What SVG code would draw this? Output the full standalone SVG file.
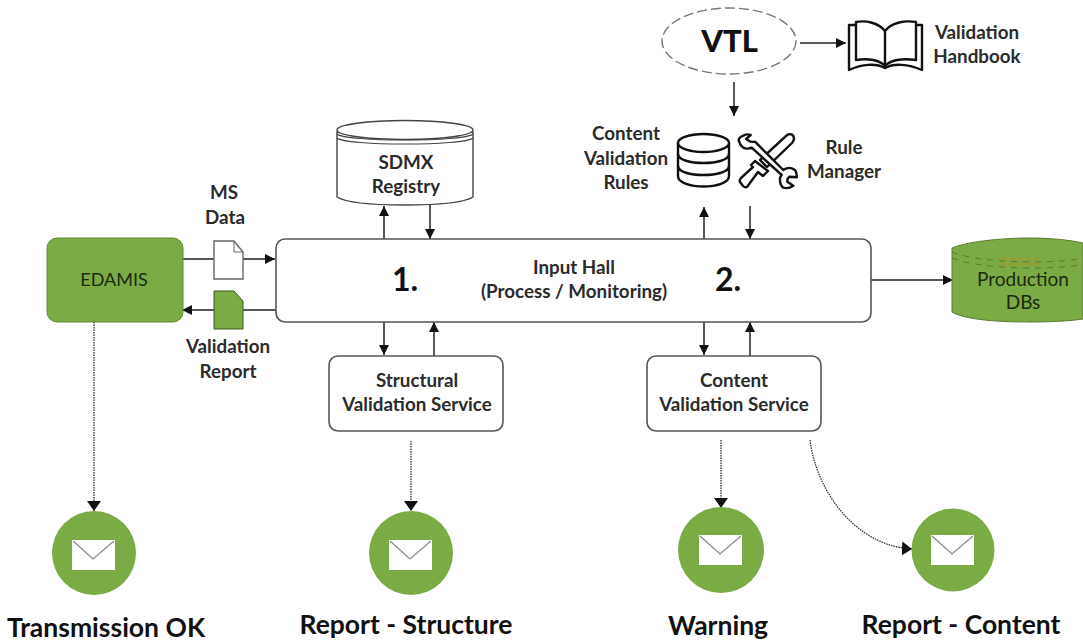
<svg xmlns="http://www.w3.org/2000/svg" width="1083" height="644" viewBox="0 0 1083 644">
<style>
text{font-family:Lato,"Open Sans","Liberation Sans",sans-serif;font-weight:700;fill:#2b2b2b;text-anchor:middle}
.l{font-size:18.800px}
.b{font-size:26.500px;fill:#111}
.n{font-size:32px;fill:#111}
.w{font-weight:400;fill:#1c2a10}
.box{fill:#fff;stroke:#555;stroke-width:1.6}
.c{fill:none;stroke:#222;stroke-width:1.5}
.d{fill:none;stroke:#333;stroke-width:1.3;stroke-dasharray:1.5 1}
.i{fill:#fff;stroke:#111;stroke-width:2.400;stroke-linejoin:round;stroke-linecap:round}
.o{fill:none;stroke:#111;stroke-width:2.400;stroke-linejoin:round;stroke-linecap:round}
.g{fill:#7aab45}
.e{fill:#fff}
.f{fill:none;stroke:#8a8a94;stroke-width:1.3}
</style>
<defs>
<marker id="a" markerUnits="userSpaceOnUse" markerWidth="11" markerHeight="11" refX="10" refY="5.500" orient="auto"><path d="M0 0.500L10 5.500L0 10.500Z" fill="#111"/></marker>
<marker id="h" markerUnits="userSpaceOnUse" markerWidth="11" markerHeight="15" refX="10" refY="7.500" orient="auto"><path d="M0 0.500L10 7.500L0 14.500Z" fill="#111"/></marker>
<g id="mail"><rect class="e" x="-22" y="-15" width="43" height="30"/><path class="f" d="M-21-14L-1 4L20-14"/></g>
</defs>

<g id="connectors">
<path class="c" d="M800 43H846" marker-end="url(#a)"/>
<path class="c" d="M734 82V116" marker-end="url(#a)"/>
<path class="c" d="M704 239V207" marker-end="url(#a)"/>
<path class="c" d="M750 206V239" marker-end="url(#a)"/>
<path class="c" d="M384 239V206" marker-end="url(#a)"/>
<path class="c" d="M430 205V239" marker-end="url(#a)"/>
<path class="c" d="M182 259H214M243 259H275" marker-end="url(#a)"/>
<path class="c" d="M276 310H243M214 310H182" marker-end="url(#a)"/>
<path class="c" d="M384 322V355" marker-end="url(#a)"/>
<path class="c" d="M434 356V322" marker-end="url(#a)"/>
<path class="c" d="M704 322V355" marker-end="url(#a)"/>
<path class="c" d="M750 356V322" marker-end="url(#a)"/>
<path class="c" d="M871 280H953" marker-end="url(#a)"/>
<path class="d" d="M94 322V511" marker-end="url(#h)"/>
<path class="d" d="M411 441V511" marker-end="url(#h)"/>
<path class="d" d="M721 440V508" marker-end="url(#h)"/>
<path class="d" d="M810 440C816 490 855 546 912 549" marker-end="url(#h)"/>
</g>

<g id="vtl"><ellipse cx="729" cy="41" rx="67" ry="33" fill="#fff" stroke="#777" stroke-width="1.4" stroke-dasharray="10 4"/><text x="729.500" y="52" style="font-size:31px;font-weight:900;fill:#111">VTL</text></g>

<g id="handbook">
<path class="o" d="M856 25H849V70C862 64 876 63 885 68C894 63 908 64 922 70V25H916"/>
<path class="i" d="M885 31C879 23 866 20 856 22V60C868 58 880 60 885 66C890 60 902 58 916 60V22C904 20 891 23 885 31V66"/>
<text class="l" x="977" y="39">Validation</text><text class="l" x="977" y="63">Handbook</text>
</g>

<g id="rules">
<path class="i" d="M678 143V176C678 190 729 190 729 176V143"/>
<ellipse class="i" cx="703.500" cy="143" rx="25.500" ry="9"/>
<path class="o" d="M678 154C678 166 729 166 729 154M678 166C678 178 729 178 729 166"/>
<text class="l" x="626" y="140">Content</text><text class="l" x="626" y="165">Validation</text><text class="l" x="626" y="189">Rules</text>
</g>

<g id="rule-manager">
<path class="i" d="M788 134.500Q793 133 794 138Q794 141 792 143L767 167L760 160L786 136Z"/>
<path class="i" d="M755 161L768 171L763 176L758 172L747 187Q745 188 743 186L740 182Q739 180 741 178L753 167L751 165Z"/>
<path class="i" d="M750.700 135C746 133.500 743.300 135.700 743.300 135.700C739 137 738 140 739.300 141.700C740 145 743 148 745 148.300C748 149 750 148.500 751.700 147.700L781.700 175C780 177 779.500 178.500 780 180C780 184 781 186 783.300 187.700C786 188.500 790 188 793.300 185.700L787.300 181.700C787 179 788 177.500 789.300 176.700L796.700 177.300C797 174 796.500 172 795 170C792 168 789 167.500 786.700 168.300L783.300 170L755 141.700C753 142 752 142 750.700 141.700L746 139Z"/>
<text class="l" x="844" y="154">Rule</text><text class="l" x="844" y="178">Manager</text>
</g>

<g id="sdmx">
<path fill="#fff" stroke="#444" stroke-width="1.400" d="M337 132V197C345 202 370 205 405 205C440 205 465 202 473 197V132Z"/>
<ellipse fill="#fff" stroke="#444" stroke-width="1.400" cx="405" cy="130" rx="68" ry="9.500"/>
<path d="M337 134C345 142 465 142 473 134M337 138C345 146 465 146 473 138" fill="none" stroke="#444" stroke-width="1.200"/>
<text class="l" x="406" y="169">SDMX</text><text class="l" x="406" y="193">Registry</text>
</g>

<g id="edamis"><rect x="47" y="238" width="136" height="84" rx="10" class="g" stroke="#5d8a30"/><text class="w" x="114" y="286" style="font-size:18px">EDAMIS</text></g>

<g id="ms-data"><path d="M214 241H234L243 252V279H214Z" fill="#fff" stroke="#666" stroke-width="1.400"/><path d="M234 241V252H243" fill="none" stroke="#666"/><text class="l" x="224" y="199">MS</text><text class="l" x="225" y="224">Data</text></g>

<g id="validation-report"><path d="M214 291H234L243 301V329H214Z" class="g" stroke="#3b5a1c"/><text class="l" x="228" y="353">Validation</text><text class="l" x="228" y="378">Report</text></g>

<g id="input-hall"><rect class="box" x="276" y="239" width="595" height="83" rx="9"/>
<text class="n" x="405" y="291">1.</text><text class="n" x="728" y="291">2.</text>
<text class="l" x="574" y="274">Input Hall</text><text class="l" x="574" y="298">(Process / Monitoring)</text></g>

<g id="production"><path class="g" stroke="#5d7a30" d="M952 248C965 242 1000 238 1030 238C1050 238 1070 240 1083 243V319C1070 321 1050 322 1030 322C1000 322 965 320 952 312Z"/>
<path d="M952 252C980 264 1060 264 1083 258M952 258C980 270 1060 270 1083 264" fill="none" stroke="#5c7a22" stroke-dasharray="6 6"/>
<path d="M1000 259H1040M1000 264H1040" stroke="#a09a30" stroke-width="1.400"/>
<text class="w" x="1023" y="286" style="font-size:19px">Production</text><text class="w" x="1023" y="309" style="font-size:19px">DBs</text></g>

<g id="structural"><rect class="box" x="329" y="356" width="174" height="75" rx="9"/><text class="l" x="417" y="387">Structural</text><text class="l" x="417" y="411">Validation Service</text></g>
<g id="content"><rect class="box" x="647" y="356" width="174" height="75" rx="9"/><text class="l" x="734" y="387">Content</text><text class="l" x="734" y="411">Validation Service</text></g>

<g id="m1"><circle class="g" cx="94" cy="553" r="42"/><use href="#mail" x="94" y="555"/><text class="b" x="106" y="637">Transmission OK</text></g>
<g id="m2"><circle class="g" cx="411" cy="553" r="42"/><use href="#mail" x="411" y="555"/><text class="b" x="406" y="634">Report - Structure</text></g>
<g id="m3"><circle class="g" cx="721" cy="550" r="43"/><use href="#mail" x="721" y="550"/><text class="b" x="718" y="635">Warning</text></g>
<g id="m4"><circle class="g" cx="953" cy="550" r="41.500"/><use href="#mail" x="953" y="550"/><text class="b" x="961" y="634">Report - Content</text></g>
</svg>
